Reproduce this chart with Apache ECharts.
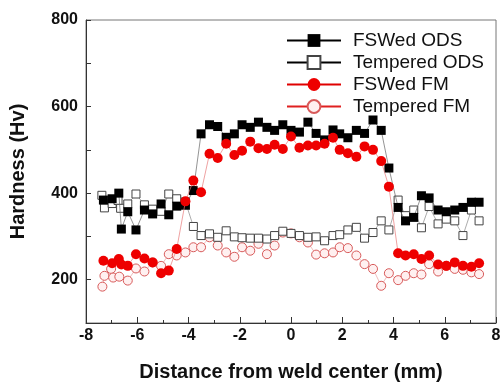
<!DOCTYPE html>
<html>
<head>
<meta charset="utf-8">
<script src="https://cdn.jsdelivr.net/npm/echarts@6/dist/echarts.min.js"></script>
<style>
  html, body { margin: 0; padding: 0; background: #fff; }
  #chart { width: 501px; height: 383px; }
</style>
</head>
<body>
<div id="chart"></div>
<script>
// hardness profiles (x in mm, y in Hv)
const fswOdsX = [-7.32, -6.98, -6.72, -6.62, -6.37, -6.05, -5.72, -5.40, -5.07, -4.77, -4.46, -4.12, -3.81, -3.51, -3.18, -2.86, -2.53, -2.21, -1.91, -1.59, -1.27, -0.94, -0.64, -0.32, 0.0, 0.33, 0.66, 0.98, 1.31, 1.64, 1.90, 2.22, 2.55, 2.87, 3.20, 3.52, 3.82, 4.18, 4.47, 4.79, 5.09, 5.39, 5.74, 6.06, 6.39, 6.71, 7.04, 7.34];
const fswOdsY = [384, 387, 400, 317, 357, 315, 361, 352, 375, 350, 370, 372, 406, 537, 558, 554, 529, 537, 558, 552, 564, 552, 545, 558, 545, 541, 564, 538, 523, 546, 537, 528, 545, 538, 569, 545, 458, 367, 336, 344, 394, 389, 361, 357, 361, 367, 379, 379];

const tmpOdsX = [-7.38, -7.28, -6.98, -6.75, -6.65, -6.37, -6.05, -5.72, -5.40, -5.07, -4.77, -4.46, -4.12, -3.81, -3.51, -3.18, -2.86, -2.53, -2.21, -1.91, -1.59, -1.27, -0.94, -0.64, -0.32, 0.0, 0.33, 0.66, 0.98, 1.31, 1.64, 1.90, 2.22, 2.55, 2.87, 3.20, 3.52, 3.82, 4.18, 4.47, 4.79, 5.09, 5.39, 5.74, 6.06, 6.39, 6.71, 7.04, 7.34];
const tmpOdsY = [395, 366, 376, 383, 365, 375, 398, 373, 363, 358, 398, 387, 380, 323, 302, 306, 298, 313, 299, 297, 296, 296, 294, 302, 312, 307, 302, 298, 299, 290, 302, 304, 315, 321, 296, 309, 336, 315, 384, 348, 361, 320, 369, 329, 340, 336, 302, 361, 336];

const fswFmX = [-7.32, -6.98, -6.72, -6.62, -6.37, -6.05, -5.72, -5.40, -5.07, -4.77, -4.46, -4.12, -3.81, -3.51, -3.18, -2.86, -2.53, -2.21, -1.91, -1.59, -1.27, -0.94, -0.64, -0.32, 0.0, 0.33, 0.66, 0.98, 1.31, 1.64, 1.90, 2.22, 2.55, 2.87, 3.20, 3.52, 3.82, 4.18, 4.47, 4.79, 5.09, 5.39, 5.74, 6.06, 6.39, 6.71, 7.04, 7.34];
const fswFmY = [244, 238, 248, 235, 232, 259, 249, 240, 215, 221, 271, 381, 429, 402, 491, 481, 514, 488, 498, 519, 504, 502, 512, 502, 531, 505, 510, 510, 514, 528, 500, 492, 484, 508, 500, 474, 415, 261, 256, 259, 248, 256, 235, 232, 240, 232, 230, 238];

const tmpFmX = [-7.36, -7.28, -7.02, -6.94, -6.70, -6.37, -6.05, -5.72, -5.40, -5.07, -4.77, -4.46, -4.12, -3.81, -3.51, -3.18, -2.86, -2.53, -2.21, -1.91, -1.59, -1.27, -0.94, -0.64, -0.32, 0.0, 0.33, 0.66, 0.98, 1.31, 1.64, 1.90, 2.22, 2.55, 2.87, 3.20, 3.52, 3.82, 4.18, 4.47, 4.79, 5.09, 5.39, 5.74, 6.06, 6.39, 6.71, 7.04, 7.34];
const tmpFmY = [184, 209, 225, 205, 207, 198, 226, 219, 240, 232, 259, 256, 263, 275, 275, 298, 279, 263, 253, 275, 267, 283, 259, 279, 309, 307, 298, 286, 258, 261, 263, 275, 273, 256, 236, 225, 186, 215, 199, 209, 215, 212, 236, 219, 232, 225, 223, 217, 213];

const seriesNames = ["FSWed ODS", "Tempered ODS", "FSWed FM", "Tempered FM"];
const yLabels = [200, 400, 600, 800];

const FONT = "'Liberation Sans', Arial, Helvetica, sans-serif";

const pairs = (xs, ys) => xs.map((x, i) => [x, ys[i]]);

const chart = echarts.init(document.getElementById("chart"), null, { renderer: "canvas" });

const option = {
  animation: false,
  backgroundColor: "#fff",
  grid: {
    left: 86, right: 5, top: 20, bottom: 60,
    outerBoundsMode: "none",
    show: true, borderColor: "#777", borderWidth: 1,
  },
  legend: {
    orient: "vertical",
    left: 286, top: 31, padding: 0,
    itemWidth: 54, itemHeight: 16, itemGap: 3,
    textStyle: { fontFamily: FONT, fontSize: 19, color: "#111", padding: [0, 0, 0, 7] },
    data: [
      { name: seriesNames[0], lineStyle: { color: "#000", width: 2 } },
      { name: seriesNames[1], lineStyle: { color: "#000", width: 2 } },
      { name: seriesNames[2], lineStyle: { color: "#e00000", width: 2 } },
      { name: seriesNames[3], lineStyle: { color: "#e02020", width: 2 } },
    ],
  },
  xAxis: {
    type: "value",
    min: -8, max: 8, interval: 2,
    name: "Distance from weld center (mm)",
    nameLocation: "middle", nameGap: 39,
    nameTextStyle: { fontFamily: FONT, fontSize: 20, fontWeight: "bold", color: "#111" },
    axisLine: { lineStyle: { color: "#333", width: 1 } },
    axisTick: { inside: true, length: 6, lineStyle: { color: "#333" } },
    minorTick: { show: true, splitNumber: 2, length: 3, lineStyle: { color: "#333" } },
    axisLabel: { fontFamily: FONT, fontSize: 16, fontWeight: "bold", color: "#111", margin: 5 },
    splitLine: { show: false },
  },
  yAxis: {
    type: "value",
    min: 100, max: 800, interval: 100,
    name: "Hardness (Hv)",
    nameLocation: "middle", nameGap: 58,
    nameTextStyle: { fontFamily: FONT, fontSize: 20, fontWeight: "bold", color: "#111" },
    axisLine: { show: true, onZero: false, lineStyle: { color: "#333", width: 1 } },
    axisTick: { inside: true, length: 5, lineStyle: { color: "#333" } },
    axisLabel: {
      fontFamily: FONT, fontSize: 16, fontWeight: "bold", color: "#111", margin: 8,
      formatter: (v) => (yLabels.includes(v) ? String(v) : ""),
    },
    splitLine: { show: false },
  },
  series: [
    {
      name: seriesNames[0], type: "line",
      data: pairs(fswOdsX, fswOdsY),
      symbol: "rect", symbolSize: 9,
      itemStyle: { color: "#000", borderColor: "#000", borderWidth: 0 },
      lineStyle: { color: "#666", width: 0.7 },
      z: 3,
    },
    {
      name: seriesNames[1], type: "line",
      data: pairs(tmpOdsX, tmpOdsY),
      symbol: "rect", symbolSize: 8,
      itemStyle: { color: "#fff", borderColor: "#444", borderWidth: 1 },
      lineStyle: { color: "#888", width: 0.7 },
      z: 2,
    },
    {
      name: seriesNames[2], type: "line",
      data: pairs(fswFmX, fswFmY),
      symbol: "circle", symbolSize: 10,
      itemStyle: { color: "#ee0000", borderColor: "#ee0000", borderWidth: 0 },
      lineStyle: { color: "#e67a7a", width: 0.7 },
      z: 4,
    },
    {
      name: seriesNames[3], type: "line",
      data: pairs(tmpFmX, tmpFmY),
      symbol: "circle", symbolSize: 9,
      itemStyle: { color: "#fff0f0", borderColor: "#d85a5a", borderWidth: 1 },
      lineStyle: { color: "#e8a0a0", width: 0.7 },
      z: 1,
    },
  ],
};

chart.setOption(option);
</script>
</body>
</html>
